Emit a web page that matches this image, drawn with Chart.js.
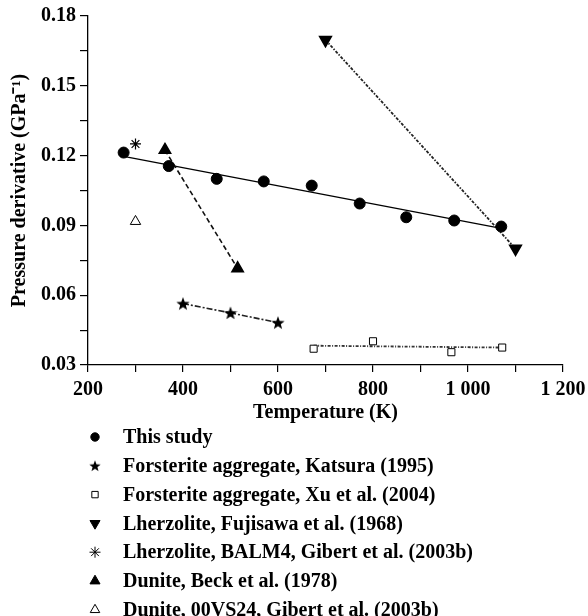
<!DOCTYPE html>
<html>
<head>
<meta charset="utf-8">
<script src="https://cdn.jsdelivr.net/npm/chart.js@4/dist/chart.umd.min.js"></script>
<style>
  html, body { margin: 0; padding: 0; background: #fff; }
  #wrap { width: 588px; height: 616px; }
</style>
</head>
<body>
<div id="wrap"><canvas id="chart" width="588" height="616"></canvas></div>
<script>
// ===== DATA =====
const xTicks = [200, 300, 400, 500, 600, 700, 800, 900, 1000, 1100, 1200];
const xLabelTicks = [200, 400, 600, 800, 1000, 1200];
const yTicks = [0.03, 0.045, 0.06, 0.075, 0.09, 0.105, 0.12, 0.135, 0.15, 0.165, 0.18];
const yLabelTicks = [0.03, 0.06, 0.09, 0.12, 0.15, 0.18];

const seriesNames = [
    'This study',
    'Forsterite aggregate, Katsura (1995)',
    'Forsterite aggregate, Xu et al. (2004)',
    'Lherzolite, Fujisawa et al. (1968)',
    'Lherzolite, BALM4, Gibert et al. (2003b)',
    'Dunite, Beck et al. (1978)',
    'Dunite, 00VS24, Gibert et al. (2003b)'
];

const thisStudyT = [275, 370, 471, 570, 671, 772, 870, 971, 1070];
const thisStudyK = [0.1213, 0.1155, 0.1100, 0.1089, 0.1071, 0.0994, 0.0935, 0.0921, 0.0895];
const thisStudyFitT = [275, 1070];
const thisStudyFitK = [0.1197, 0.0887];

const katsuraT = [400, 500, 600];
const katsuraK = [0.0564, 0.0524, 0.0482];

const xuT = [675, 800, 965, 1072];
const xuK = [0.0370, 0.0402, 0.0355, 0.0375];
const xuFitT = [675, 1072];
const xuFitK = [0.0383, 0.0375];

const fujisawaT = [700, 1100];
const fujisawaK = [0.1697, 0.0800];

const balmT = [300];
const balmK = [0.1250];

const beckT = [362, 515];
const beckK = [0.1224, 0.0715];

const vs24T = [300];
const vs24K = [0.0917];

// ===== HELPERS =====
const pts = (xs, ys) => xs.map((x, i) => ({ x: x, y: ys[i] }));
const FONT = "'Liberation Serif', 'Times New Roman', serif";

// filled five-point star drawn into a small canvas, used as a pointStyle
function makeStar(size) {
    const c = document.createElement('canvas');
    c.width = size; c.height = size;
    const g = c.getContext('2d');
    const cx = size / 2, cy = size / 2 + size * 0.04;
    const ro = size / 2, ri = ro * 0.42;
    g.beginPath();
    for (let i = 0; i < 10; i++) {
        const r = i % 2 === 0 ? ro : ri;
        const a = -Math.PI / 2 + i * Math.PI / 5;
        g.lineTo(cx + r * Math.cos(a), cy + r * Math.sin(a));
    }
    g.closePath();
    g.fillStyle = '#000';
    g.fill();
    return c;
}
const starBig = makeStar(14);
const starSmall = makeStar(12);

// ===== DATASETS =====
const markerSets = [
    { label: seriesNames[0], data: pts(thisStudyT, thisStudyK), pointStyle: 'circle', pointRadius: 5.5,
      backgroundColor: '#000', borderColor: '#000', legendStyle: 'circle', legendRadius: 4.2 },
    { label: seriesNames[1], data: pts(katsuraT, katsuraK), pointStyle: starBig, showLine: true,
      borderColor: '#222', borderWidth: 1.6, borderDash: [6, 2, 2, 2], backgroundColor: '#000',
      legendStyle: starSmall, legendRadius: 5 },
    { label: seriesNames[2], data: pts(xuT, xuK), pointStyle: 'rect', pointRadius: 5,
      backgroundColor: '#fff', borderColor: '#000', pointBorderWidth: 1, legendStyle: 'rect', legendRadius: 4.5 },
    { label: seriesNames[3], data: pts(fujisawaT, fujisawaK), pointStyle: 'triangle', pointRadius: 6.5,
      rotation: 180, showLine: true, borderColor: '#222', borderWidth: 1.8, borderDash: [3, 1.5, 1.5, 1.5],
      backgroundColor: '#000', pointBorderColor: '#000', legendStyle: 'triangle', legendRadius: 5.8, legendRotation: 180 },
    { label: seriesNames[4], data: pts(balmT, balmK), pointStyle: 'star', pointRadius: 5.5,
      backgroundColor: '#000', borderColor: '#000', pointBorderWidth: 1.2, legendStyle: 'star', legendRadius: 5.5 },
    { label: seriesNames[5], data: pts(beckT, beckK), pointStyle: 'triangle', pointRadius: 6.5,
      showLine: true, borderColor: '#111', borderWidth: 1.6, borderDash: [5, 3],
      backgroundColor: '#000', pointBorderColor: '#000', legendStyle: 'triangle', legendRadius: 5.8 },
    { label: seriesNames[6], data: pts(vs24T, vs24K), pointStyle: 'triangle', pointRadius: 6,
      backgroundColor: '#fff', borderColor: '#000', pointBorderWidth: 1, legendStyle: 'triangle', legendRadius: 5.5 }
];
markerSets.forEach(d => {
    d.showLine = d.showLine || false;
    d.inLegend = true;
    d.order = 1;
});

const fitSets = [
    { label: 'fit this study', data: pts(thisStudyFitT, thisStudyFitK), showLine: true, pointRadius: 0,
      borderColor: '#000', borderWidth: 1.3, order: 2 },
    { label: 'fit Xu', data: pts(xuFitT, xuFitK), showLine: true, pointRadius: 0,
      borderColor: '#333', borderWidth: 1.8, borderDash: [3, 1.5, 1, 1.5], order: 2 }
];

// ===== LEGEND (vertical list under the x axis) =====
const stackedLegend = {
    id: 'stackedLegend',
    afterDraw(chart) {
        const ctx = chart.ctx;
        const items = chart.data.datasets.filter(d => d.inLegend);
        ctx.save();
        ctx.font = 'bold 20px ' + FONT;
        ctx.textBaseline = 'middle';
        ctx.textAlign = 'left';
        items.forEach((d, i) => {
            const y = 437 + i * 28.8;
            ctx.fillStyle = d.backgroundColor;
            ctx.strokeStyle = d.pointBorderColor || d.borderColor;
            ctx.lineWidth = 1;
            Chart.helpers.drawPoint(ctx, {
                pointStyle: d.legendStyle,
                radius: d.legendRadius,
                rotation: d.legendRotation || 0,
                borderWidth: 1
            }, 95, y);
            ctx.fillStyle = '#000';
            ctx.fillText(d.label, 123, y + 1);
        });
        ctx.restore();
    }
};

// ===== CHART =====
const fmtThousands = v => v >= 1000 ? String(v).replace(/(\d)(\d{3})$/, '$1 $2') : String(v);

new Chart(document.getElementById('chart'), {
    type: 'scatter',
    data: { datasets: [...markerSets, ...fitSets] },
    options: {
        responsive: false,
        animation: false,
        layout: { padding: { left: 0, top: 16, right: 25, bottom: 191 } },
        plugins: {
            legend: { display: false },
            tooltip: { enabled: false }
        },
        scales: {
            x: {
                type: 'linear',
                min: 200, max: 1200,
                afterBuildTicks: s => { s.ticks = xTicks.map(v => ({ value: v })); },
                afterFit: s => { s.height = 60; s.paddingLeft = 0; s.paddingRight = 0; },
                border: { display: true, color: '#000', width: 1.3 },
                grid: { drawOnChartArea: false, drawTicks: true, tickLength: 7, color: '#000', lineWidth: 1.2 },
                ticks: {
                    color: '#000',
                    padding: 6,
                    font: { family: FONT, size: 20, weight: 'bold' },
                    maxRotation: 0,
                    autoSkip: false,
                    callback: v => xLabelTicks.includes(v) ? fmtThousands(v) : ''
                },
                title: {
                    display: true,
                    text: 'Temperature (K)',
                    color: '#000',
                    padding: { top: 4, bottom: 0 },
                    font: { family: FONT, size: 20, weight: 'bold' }
                }
            },
            y: {
                type: 'linear',
                min: 0.03, max: 0.18,
                afterBuildTicks: s => { s.ticks = yTicks.map(v => ({ value: v })); },
                afterFit: s => { s.width = 88; s.paddingTop = 0; s.paddingBottom = 0; },
                border: { display: true, color: '#000', width: 1.3 },
                grid: { drawOnChartArea: false, drawTicks: true, tickLength: 8, color: '#000', lineWidth: 1.2 },
                ticks: {
                    color: '#000',
                    padding: 4,
                    font: { family: FONT, size: 20, weight: 'bold' },
                    autoSkip: false,
                    callback: v => yLabelTicks.some(t => Math.abs(t - v) < 1e-9) ? v.toFixed(2) : ''
                },
                title: {
                    display: true,
                    text: 'Pressure derivative (GPa⁻¹)',
                    color: '#000',
                    padding: { top: 8, bottom: 2 },
                    font: { family: FONT, size: 20, weight: 'bold' }
                }
            }
        }
    },
    plugins: [stackedLegend]
});
</script>
</body>
</html>
